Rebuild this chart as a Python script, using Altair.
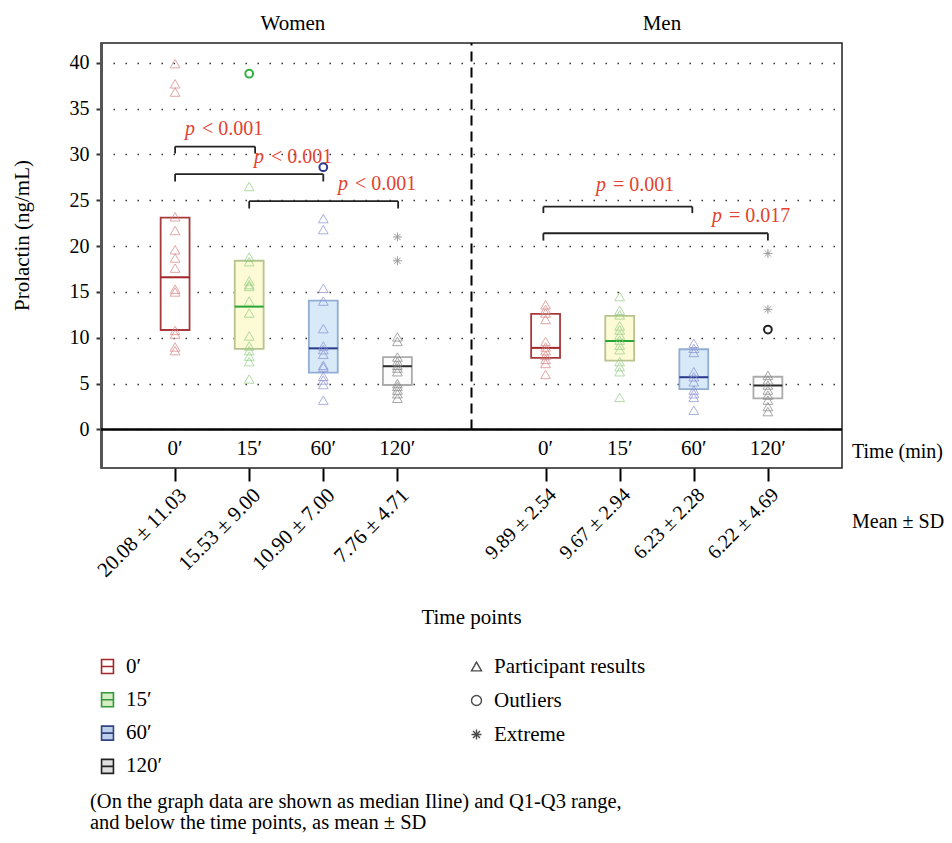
import altair as alt
import pandas as pd

FONT = "Liberation Serif"

groups = ["Women", "Men"]
times = ["0′", "15′", "60′", "120′"]

# participant results (ng/mL)
women_0 = [39.9, 37.7, 36.8, 23.2, 21.7, 19.6, 18.7, 17.6, 15.3, 15.0, 10.8, 10.4, 9.0, 8.6]
women_15 = [26.5, 18.8, 18.3, 16.2, 15.8, 15.6, 14.0, 12.7, 10.2, 9.1, 8.6, 8.0, 7.4, 5.5]
women_60 = [23.0, 21.8, 15.4, 14.0, 11.0, 9.1, 8.7, 8.2, 7.0, 6.8, 5.8, 5.4, 4.9, 3.2]
women_120 = [10.1, 9.6, 7.9, 7.4, 7.0, 6.7, 6.3, 5.0, 4.7, 4.3, 3.9, 3.4]
men_0 = [13.6, 13.1, 12.7, 12.0, 9.6, 9.0, 8.6, 8.1, 7.65, 7.2, 6.0]
men_15 = [14.5, 13.0, 12.5, 11.3, 10.85, 10.3, 9.75, 9.2, 8.7, 7.4, 6.85, 6.3, 3.5]
men_60 = [9.4, 8.85, 8.4, 6.3, 5.75, 5.2, 4.3, 3.9, 3.5, 2.1]
men_120 = [5.9, 5.4, 4.85, 4.3, 3.75, 3.2, 2.5, 1.95]

outlier_group = ["Women", "Women", "Men"]
outlier_time = ["15′", "60′", "120′"]
outlier_value = [38.8, 28.6, 10.9]

extreme_group = ["Women", "Women", "Men", "Men"]
extreme_time = ["120′", "120′", "120′", "120′"]
extreme_value = [21.0, 18.4, 19.2, 13.1]

# box statistics, order: Women 0,15,60,120 then Men 0,15,60,120
q1_vals = [10.85, 8.8, 6.2, 4.85, 7.8, 7.5, 4.4, 3.4]
median_vals = [16.6, 13.4, 8.85, 6.9, 8.9, 9.65, 5.7, 4.8]
q3_vals = [23.1, 18.4, 14.05, 7.9, 12.6, 12.4, 8.75, 5.75]
mean_sd = ["20.08 ± 11.03", "15.53 ± 9.00", "10.90 ± 7.00", "7.76 ± 4.71",
           "9.89 ± 2.54", "9.67 ± 2.94", "6.23 ± 2.28", "6.22 ± 4.69"]

# significance brackets
br_x1 = [1.0, 1.0, 2.0, 5.97, 5.97]
br_x2 = [2.08, 3.0, 4.01, 7.98, 9.0]
br_y = [30.85, 27.85, 24.9, 24.3, 21.4]
br_drop = [0.75, 0.8, 0.8, 0.7, 0.8]
p_sym = ["<", "<", "<", "=", "="]
p_num = ["0.001", "0.001", "0.001", "0.001", "0.017"]
p_x = [1.134, 2.065, 3.198, 6.68, 8.245]
p_y = [32.75, 29.72, 26.8, 26.7, 23.28]

kinds = ["Participant results", "Outliers", "Extreme"]

# styles
box_fill = ["#ffffff", "#fdfad6", "#d8e9f8", "#fcfcfc"]
box_stroke = ["#a8393b", "#b7c48f", "#91add3", "#ababab"]
median_color = ["#a3262a", "#28a737", "#283a8c", "#2b2b2b"]
point_color = ["#d98484", "#93cf83", "#8a91d4", "#858585"]
outlier_color = ["#a3262a", "#2db33d", "#2b3a8c", "#222222"]
extreme_color = "#9a9a9a"
legend_fill = ["#ffffff", "#d7ebc5", "#bdd0ec", "#dedede"]
legend_stroke = ["#a3262a", "#2e9a3a", "#33437f", "#222222"]
p_color = "#e4412f"

BOX_PATH = "M-0.85,-1H0.85V1H-0.85ZM-0.85,0H0.85"
AST_PATH = "M-1,0H1M0,-1V1M-0.7,-0.7L0.7,0.7M-0.7,0.7L0.7,-0.7"

FS = 21
W, H = 741, 425
XD = [0, 10]
YD = [-4.2, 42.15]
xs = alt.Scale(domain=XD, nice=False, zero=False)
ys = alt.Scale(domain=YD, nice=False, zero=False)


def pos(g, t):
    return groups.index(g) * 5 + times.index(t) + 1


# ---- tables
pts_lists = {("Women", "0′"): women_0, ("Women", "15′"): women_15,
             ("Women", "60′"): women_60, ("Women", "120′"): women_120,
             ("Men", "0′"): men_0, ("Men", "15′"): men_15,
             ("Men", "60′"): men_60, ("Men", "120′"): men_120}
rows = []
for (g, t), vals in pts_lists.items():
    for v in vals:
        rows.append(dict(x=pos(g, t), v=v, shape="triangle-up", size=95,
                         col=point_color[times.index(t)], sw=1.0, op=0.72))
for g, t, v in zip(outlier_group, outlier_time, outlier_value):
    rows.append(dict(x=pos(g, t), v=v, shape="circle", size=60,
                     col=outlier_color[times.index(t)], sw=2.0, op=1.0))
for g, t, v in zip(extreme_group, extreme_time, extreme_value):
    rows.append(dict(x=pos(g, t), v=v, shape=AST_PATH, size=80,
                     col=extreme_color, sw=1.0, op=1.0))
pts = pd.DataFrame(rows)

brows = []
i = 0
for g in groups:
    for ti, t in enumerate(times):
        p = pos(g, t)
        brows.append(dict(x=p, x1=p - 0.195, x2=p + 0.195, q1=q1_vals[i], med=median_vals[i],
                          q3=q3_vals[i], fill=box_fill[ti], stroke=box_stroke[ti],
                          mcol=median_color[ti], time=t, lab=mean_sd[i]))
        i += 1
boxes = pd.DataFrame(brows)

positions = list(boxes["x"])
lab_arr = [""] * 11
for p_, l_ in zip(positions, mean_sd):
    lab_arr[int(p_)] = l_
label_expr = "[" + ",".join("'" + s + "'" for s in lab_arr) + "][datum.value]"

brk = pd.DataFrame(dict(x1=br_x1, x2=br_x2, y=br_y,
                        yb=[a - b for a, b in zip(br_y, br_drop)]))
ptxt = pd.DataFrame(dict(x=p_x, y=p_y, rest=[s + " " + n for s, n in zip(p_sym, p_num)]))
zero_df = pd.DataFrame(dict(x1=[XD[0]], x2=[XD[1]], y=[0]))
div_df = pd.DataFrame(dict(x=[5], y1=[0], y2=[YD[1]]))
gtitle = pd.DataFrame(dict(x=[2.59, 7.57], t=groups))

x_axis = alt.Axis(values=positions, labelExpr=label_expr, labelAngle=315, labelAlign="right",
                  labelBaseline="top", labelPadding=3,
                  labelFontSize={"condition": {"test": "datum.value > 5", "value": 20}, "value": 21},
                  labelFont=FONT, labelColor="black", labelOverlap=False, labelFlush=False,
                  labelBound=False,
                  tickSize=13, tickWidth=2, tickColor="black", domain=False, grid=False,
                  title="Time points", titleX=370, titleY=149, titleAlign="center",
                  titleBaseline="middle", titleFontSize=FS, titleFontWeight="normal",
                  titleFont=FONT, titleColor="black")
y_axis = alt.Axis(values=[0, 5, 10, 15, 20, 25, 30, 35, 40], tickSize=5, tickWidth=2,
                  tickColor="#333", domainColor="#555", domainWidth=3, grid=True,
                  gridDash=[1.5, 10.5], gridColor="#333", gridWidth=1.4,
                  labelFontSize=20, labelFont=FONT, labelColor="black", labelPadding=7,
                  labelOverlap=False, labelFlush=False,
                  title="Prolactin (ng/mL)", titleX=-79, titleY=192, titleAngle=270,
                  titleAlign="center", titleBaseline="middle", titleFontSize=FS,
                  titleFontWeight="normal", titleFont=FONT, titleColor="black")


def X(f):
    return alt.X(f, scale=xs)


def Y(f):
    return alt.Y(f, scale=ys)


box_layer = alt.Chart(boxes).mark_rect(strokeWidth=1.8).encode(
    x=alt.X("x1:Q", scale=xs, axis=x_axis),
    x2="x2:Q",
    y=alt.Y("q1:Q", scale=ys, axis=y_axis),
    y2="q3:Q",
    fill=alt.Fill("fill:N", scale=None),
    stroke=alt.Stroke("stroke:N", scale=None),
)

zero_layer = alt.Chart(zero_df).mark_rule(color="black", strokeWidth=2.5).encode(
    x=X("x1:Q"), x2="x2:Q", y=Y("y:Q"))

div_layer = alt.Chart(div_df).mark_rule(color="black", strokeWidth=2, strokeDash=[10, 6]).encode(
    x=X("x:Q"), y=Y("y1:Q"), y2="y2:Q")

med_layer = alt.Chart(boxes).mark_rule(strokeWidth=2).encode(
    x=X("x1:Q"), x2="x2:Q", y=Y("med:Q"),
    stroke=alt.Stroke("mcol:N", scale=None))

pt_layer = alt.Chart(pts).mark_point(filled=False).encode(
    x=X("x:Q"), y=Y("v:Q"),
    shape=alt.Shape("shape:N", scale=None),
    size=alt.Size("size:Q", scale=None),
    stroke=alt.Stroke("col:N", scale=None),
    strokeWidth=alt.StrokeWidth("sw:Q", scale=None),
    opacity=alt.Opacity("op:Q", scale=None),
)

brk_h = alt.Chart(brk).mark_rule(color="#222", strokeWidth=1.8).encode(
    x=X("x1:Q"), x2="x2:Q", y=Y("y:Q"))
brk_l = alt.Chart(brk).mark_rule(color="#222", strokeWidth=1.8).encode(
    x=X("x1:Q"), y=Y("y:Q"), y2="yb:Q")
brk_r = alt.Chart(brk).mark_rule(color="#222", strokeWidth=1.8).encode(
    x=X("x2:Q"), y=Y("y:Q"), y2="yb:Q")

p_it = alt.Chart(ptxt).mark_text(align="left", baseline="middle", font=FONT, fontSize=20,
                                 fontStyle="italic", color=p_color).encode(
    x=X("x:Q"), y=Y("y:Q"), text=alt.value("p"))
p_rest = alt.Chart(ptxt).mark_text(align="left", baseline="middle", font=FONT, fontSize=20,
                                   dx=17, color=p_color).encode(
    x=X("x:Q"), y=Y("y:Q"), text="rest:N")

band_lab = alt.Chart(boxes).mark_text(baseline="middle", font=FONT, fontSize=FS,
                                      color="black").encode(
    x=X("x:Q"), y=alt.value(406), text="time:N")

grp_lab = alt.Chart(gtitle).mark_text(baseline="middle", font=FONT, fontSize=FS,
                                      color="black").encode(
    x=X("x:Q"), y=alt.value(-19), text="t:N")

side1 = alt.Chart(pd.DataFrame({"t": ["Time (min)"]})).mark_text(
    align="left", baseline="middle", font=FONT, fontSize=20, color="black").encode(
    x=alt.value(751), y=alt.value(409), text="t:N")
side2 = alt.Chart(pd.DataFrame({"t": ["Mean ± SD"]})).mark_text(
    align="left", baseline="middle", font=FONT, fontSize=20, color="black").encode(
    x=alt.value(751), y=alt.value(479), text="t:N")

foot = alt.Chart(pd.DataFrame({"t": ["note"]})).mark_text(
    align="left", baseline="alphabetic", font=FONT, fontSize=20.5, color="black",
    lineHeight=21).encode(
    x=alt.value(-11), y=alt.value(765),
    text=alt.value(["(On the graph data are shown as median Iline) and Q1-Q3 range,",
                    "and below the time points, as mean ± SD"]))

leg_common = dict(orient="none", legendX=-4, legendY=613, title=None, symbolType=BOX_PATH,
                  symbolSize=196, symbolStrokeWidth=1.6, symbolOpacity=1, labelFont=FONT,
                  labelFontSize=FS, labelColor="black", labelOffset=8, rowPadding=11.3,
                  padding=0, direction="vertical")
time_leg = alt.Chart(pd.DataFrame({"time": times, "x": [1] * 4, "y": [1] * 4})).mark_point(
    opacity=0, filled=True, shape=BOX_PATH).encode(
    x=X("x:Q"), y=Y("y:Q"),
    fill=alt.Fill("time:N", scale=alt.Scale(domain=times, range=legend_fill),
                  legend=alt.Legend(**leg_common)),
    stroke=alt.Stroke("time:N", scale=alt.Scale(domain=times, range=legend_stroke),
                      legend=alt.Legend(**leg_common)),
)

kind_leg = alt.Chart(pd.DataFrame({"kind": kinds, "x": [1] * 3, "y": [1] * 3})).mark_point(
    opacity=0, filled=False).encode(
    x=X("x:Q"), y=Y("y:Q"),
    shape=alt.Shape("kind:N", scale=alt.Scale(domain=kinds, range=["triangle-up", "circle", AST_PATH]),
                    legend=alt.Legend(orient="none", legendX=365, legendY=613, title=None,
                                      symbolSize=100, symbolStrokeWidth=1.4,
                                      symbolStrokeColor="black", symbolFillColor="transparent",
                                      symbolOpacity=1, labelFont=FONT, labelFontSize=FS,
                                      labelColor="black", labelOffset=7, rowPadding=12,
                                      padding=0, direction="vertical")),
)

chart = alt.layer(
    box_layer, zero_layer, div_layer, med_layer, pt_layer, brk_h, brk_l, brk_r,
    p_it, p_rest, band_lab, grp_lab, side1, side2, foot, time_leg, kind_leg,
).properties(
    width=W, height=H,
    autosize=alt.AutoSizeParams(type="none"),
    padding={"left": 93, "top": 35, "right": 102, "bottom": 366},
).configure(font=FONT).configure_view(stroke="#222", strokeWidth=1.5)

chart.save("out.html", embed_options={"renderer": "svg", "actions": False})
